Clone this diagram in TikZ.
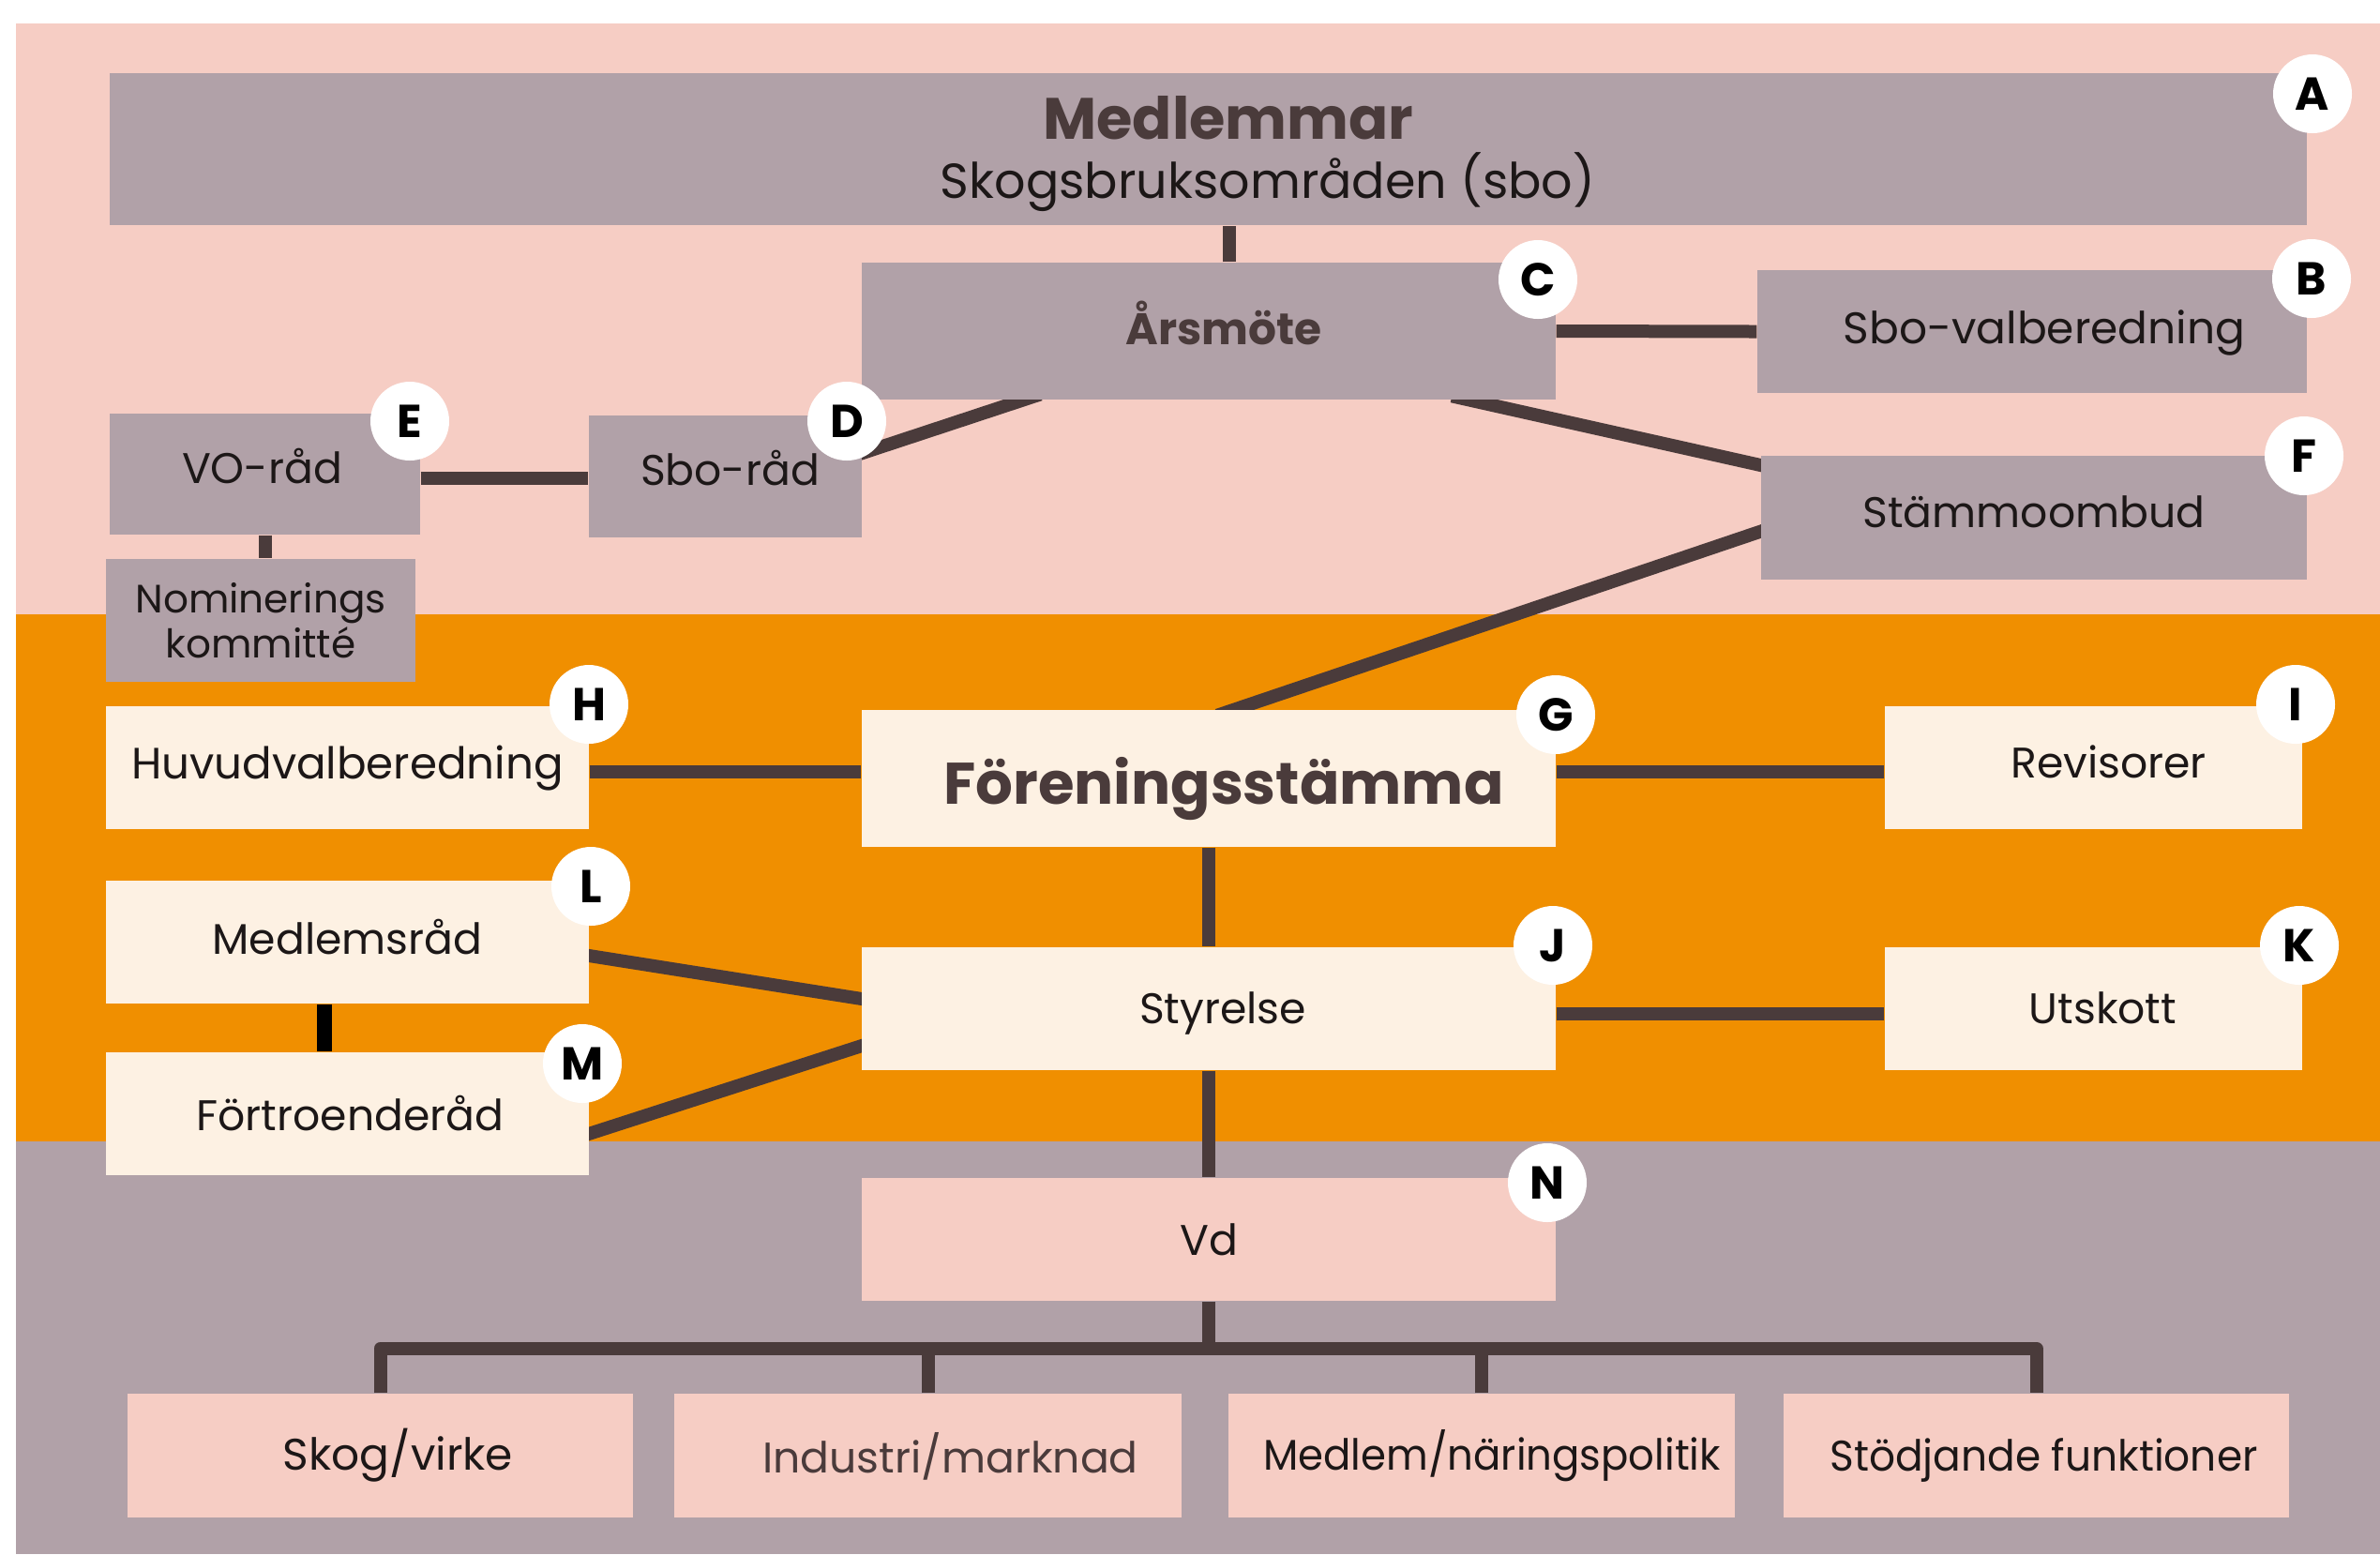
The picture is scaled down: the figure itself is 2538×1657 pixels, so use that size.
\documentclass[tikz,border=0pt]{standalone}
\usepackage{fontspec}
\usepackage{graphicx}
\setmainfont{Poppins}
\usetikzlibrary{calc}
\definecolor{pinkbg}{HTML}{F6CDC4}
\definecolor{mauve}{HTML}{B1A1A8}
\definecolor{orangebg}{HTML}{F08F00}
\definecolor{cream}{HTML}{FDF1E3}
\definecolor{linec}{HTML}{4A3B3B}
\definecolor{txt}{HTML}{1C1717}
\definecolor{titletxt}{HTML}{4A3B3B}
\pgfdeclarelayer{back}
\pgfdeclarelayer{lines}
\pgfsetlayers{back,lines,main}
% shift text inside its node: right #1, up #2
\newcommand\tx[3]{\raisebox{#2}[\height][\depth]{\hspace*{#1}#3\hspace*{-#1}}}
\begin{document}
\begin{tikzpicture}[x=0.1mm,y=-0.1mm,
  box/.style={rectangle, inner sep=0pt, text=txt, font=\fontsize{13}{15}\selectfont},
  wh/.style 2 args={minimum width=#1*0.1mm, minimum height=#2*0.1mm},
  mbox/.style={box, fill=mauve},
  cbox/.style={box, fill=cream},
  pbox/.style={box, fill=pinkbg},
  title/.style={inner sep=0pt, text=titletxt, font=\bfseries\fontsize{17.7}{21}\selectfont},
  badge/.style={circle, fill=white, minimum size=8.4mm, inner sep=0pt, font=\bfseries\fontsize{14}{14}\selectfont, text=black},
  conn/.style={draw=linec, line width=1.4mm},
  ext/.style={shorten <=-2mm, shorten >=-2mm},
]
\useasboundingbox (0,0) rectangle (2538,1657);
\begin{pgfonlayer}{back}
  \fill[white] (0,0) rectangle (2538,1657);
  \fill[pinkbg] (17,25) rectangle (2538,655);
  \fill[orangebg] (17,655) rectangle (2538,1217);
  \fill[mauve] (17,1217) rectangle (2538,1657);
\end{pgfonlayer}

% top band
\node[mbox, wh={2343}{162}] (A) at (1288.5,159) {};
\node[title] (Atitle) at (1310,126) {Medlemmar};
\node[inner sep=0pt, text=txt, font=\fontsize{14.9}{18}\selectfont] (Asub) at (1352,194) {Skogsbruksområden (sbo)};
\node[mbox, wh={740}{146}] (C) at (1289,353) {};
\node[title, font=\bfseries\fontsize{13.4}{16}\selectfont] (Ctitle) at (1305,344) {Årsmöte};
\node[mbox, wh={586}{131}, font=\fontsize{13.4}{15}\selectfont] (B) at (2167,353.5) {\tx{1.3mm}{-0.15mm}{Sbo-valberedning}};
\node[mbox, wh={582}{132}] (F) at (2169,552) {\tx{0mm}{0.65mm}{Stämmoombud}};
\node[mbox, wh={291}{130}] (D) at (773.5,508) {\tx{0.5mm}{0.9mm}{Sbo-råd}};
\node[mbox, wh={331}{129}] (E) at (282.5,505.5) {\tx{-0.3mm}{0.8mm}{VO-råd}};
\node[mbox, wh={330}{131}, align=center, font=\fontsize{12}{10.5}\selectfont] (Nom) at (278,661.5) {Nominerings\\kommitté};

% middle band
\node[cbox, wh={515}{131}, font=\fontsize{13.3}{15}\selectfont] (H) at (370.5,818.5) {Huvudvalberedning};
\node[cbox, wh={740}{146}] (G) at (1289,830) {};
\node[title, font=\bfseries\fontsize{17.8}{21}\selectfont] (Gtitle) at (1305,841) {Föreningsstämma};
\node[cbox, wh={445}{131}] (I) at (2232.5,818.5) {\tx{1.6mm}{0.6mm}{Revisorer}};
\node[cbox, wh={515}{131}] (L) at (370.5,1004.5) {\tx{0mm}{0.5mm}{Medlemsråd}};
\node[cbox, wh={740}{131}] (J) at (1289,1075.5) {\tx{1.5mm}{-0.5mm}{Styrelse}};
\node[cbox, wh={445}{131}] (K) at (2232.5,1075.5) {\tx{1mm}{0.1mm}{Utskott}};
\node[cbox, wh={515}{131}] (M) at (370.5,1187.5) {\tx{0.3mm}{0mm}{Förtroenderåd}};

% bottom band
\node[pbox, wh={740}{131}] (N) at (1289,1321.5) {Vd};
\node[pbox, wh={539}{132}, font=\fontsize{13.4}{15}\selectfont] (b1) at (405.5,1552) {\tx{1.9mm}{0mm}{Skog/virke}};
\node[pbox, wh={541}{132}, text=linec] (b2) at (989.5,1552) {\tx{2.4mm}{-0.1mm}{Industri/marknad}};
\node[pbox, wh={540}{132}] (b3) at (1580,1552) {\tx{1.1mm}{0mm}{\scalebox{0.95}[1]{Medlem/näringspolitik}}};
\node[pbox, wh={539}{132}] (b4) at (2171.5,1552) {\tx{0.8mm}{-0.5mm}{\scalebox{0.96}[1]{Stödjande funktioner}}};

% connectors
\begin{pgfonlayer}{lines}
  \draw[conn] ([xshift=2.2mm]C.north) -- ([xshift=2.2mm]C.north |- A.south);
  \draw[conn] (C.east) -- (B.west);
  \draw[conn, ext] ($(C.south west)!0.876!(C.south east)$) -- ($(F.north west)!0.08!(F.south west)$);
  \draw[conn, ext] ($(F.north west)!0.61!(F.south west)$) -- ([xshift=2.8mm]G.north);
  \draw[conn, ext] ($(D.north east)!0.31!(D.south east)$) -- ($(C.south west)!0.232!(C.south east)$);
  \draw[conn] ([yshift=-0.4mm]E.east) -- ([yshift=-0.4mm]E.east -| D.west);
  \draw[conn] (E.south) -- (E.south |- Nom.north);
  \draw[conn] ([yshift=-0.4mm]H.east) -- ([yshift=-0.4mm]H.east -| G.west);
  \draw[conn] ([yshift=-0.4mm]I.west) -- ([yshift=-0.4mm]I.west -| G.east);
  \draw[conn] (G.south) -- (J.north);
  \draw[conn] ([yshift=-0.5mm]J.east) -- ([yshift=-0.5mm]K.west);
  \draw[conn, ext] ($(L.north east)!0.61!(L.south east)$) -- ($(J.north west)!0.42!(J.south west)$);
  \draw[conn, ext] ($(M.north east)!0.66!(M.south east)$) -- ($(J.north west)!0.8!(J.south west)$);
  \draw[conn, draw=black, line width=1.6mm] ([xshift=-2.5mm]L.south) -- ([xshift=-2.5mm]L.south |- M.north);
  \draw[conn] (J.south) -- (N.north);
  \coordinate (bus) at ($(N.south)+(0,50)$);
  \draw[conn, line join=round] (b1.north) |- (bus) -| (b4.north);
  \draw[conn] (N.south) -- (bus);
  \draw[conn] (b2.north) -- (b2.north |- bus);
  \draw[conn] (b3.north) -- (b3.north |- bus);
\end{pgfonlayer}

% badges
\node[badge] (bA) at (2466,100) {A};
\node[badge] (bB) at (2465,297) {B};
\node[badge] (bC) at (1640,298) {C};
\node[badge] (bD) at (903,449) {D};
\node[badge] (bE) at (437,449) {E};
\node[badge] (bF) at (2457,486) {F};
\node[badge] (bG) at (1659,762) {G};
\node[badge] (bH) at (628,751) {H};
\node[badge] (bI) at (2448,751) {I};
\node[badge] (bJ) at (1656,1008) {J};
\node[badge] (bK) at (2452,1008) {K};
\node[badge] (bL) at (630,945) {L};
\node[badge] (bM) at (621,1134) {M};
\node[badge] (bN) at (1650,1261) {N};
\end{tikzpicture}
\end{document}
